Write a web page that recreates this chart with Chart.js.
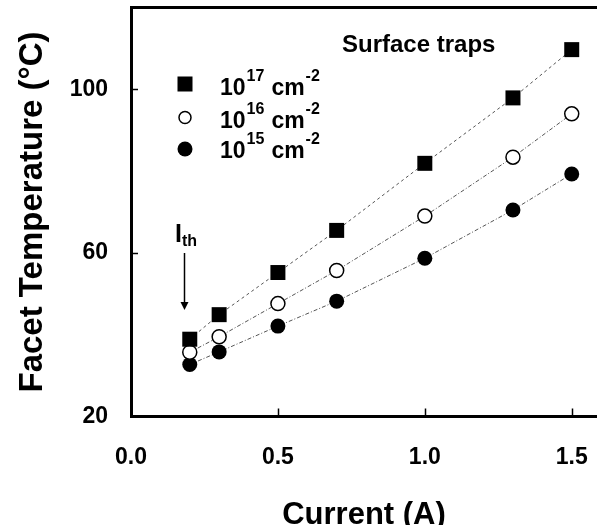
<!DOCTYPE html>
<html><head><meta charset="utf-8">
<script src="https://cdn.jsdelivr.net/npm/chart.js@4.4.0/dist/chart.umd.min.js"></script>
<style>html,body{margin:0;padding:0;background:#fff;overflow:hidden}#wrap{width:597px;height:525px}</style>
</head><body><div id="wrap"><canvas id="c" width="597" height="525"></canvas></div>
<script>
const currents = [0.2, 0.3, 0.5, 0.7, 1.0, 1.3, 1.5];
const temp1e17 = [38.9, 44.9, 55.2, 65.5, 81.9, 97.9, 109.7];
const temp1e16 = [35.7, 39.5, 47.6, 55.7, 69.0, 83.4, 94.0];
const temp1e15 = [32.7, 35.8, 42.1, 48.2, 58.7, 70.5, 79.3];
const xTicks = [0, 0.5, 1.0, 1.5];
const yTicks = [20, 60, 100];
const legendExp = ['17', '16', '15'];
const FONT = "'Liberation Sans', Arial, sans-serif";
Chart.defaults.font.family = FONT;
Chart.defaults.color = '#000';

function pts(vals){ return currents.map((x,i)=>({x:x, y:vals[i]})); }
function noPad(s){ s.paddingTop = 0; s.paddingBottom = 0; s.paddingLeft = 0; s.paddingRight = 0; }

const annot = {
  id: 'annot',
  afterDraw(chart){
    const ctx = chart.ctx, xs = chart.scales.x, ys = chart.scales.y;
    ctx.save();
    ctx.strokeStyle = '#000'; ctx.lineWidth = 1.5;
    xTicks.forEach(v=>{ if (v === xs.min) return; const px = Math.round(xs.getPixelForValue(v))+0.5;
      ctx.beginPath(); ctx.moveTo(px, ys.bottom); ctx.lineTo(px, ys.bottom-8); ctx.stroke(); });
    yTicks.forEach(v=>{ if (v === ys.min) return; const py = Math.round(ys.getPixelForValue(v))+0.5;
      ctx.beginPath(); ctx.moveTo(xs.left, py); ctx.lineTo(xs.left+7, py); ctx.stroke(); });
    // legend
    ctx.fillStyle = '#000';
    const rows = [{y:84, base:95, style:'rect'}, {y:117.5, base:128, style:'open'}, {y:149, base:158, style:'fill'}];
    rows.forEach((r, i)=>{
      const mx = 185;
      ctx.lineWidth = 1.5;
      if (r.style === 'rect'){ ctx.fillRect(mx-7.5, r.y-7.5, 15, 15); }
      else if (r.style === 'open'){ ctx.beginPath(); ctx.arc(mx, r.y, 6, 0, Math.PI*2); ctx.fillStyle='#fff'; ctx.fill(); ctx.stroke(); ctx.fillStyle='#000'; }
      else { ctx.beginPath(); ctx.arc(mx, r.y, 7.5, 0, Math.PI*2); ctx.fill(); }
      let x = 220;
      ctx.textBaseline = 'alphabetic'; ctx.textAlign = 'left';
      ctx.font = 'bold 23px ' + FONT; ctx.fillText('10', x, r.base); x += ctx.measureText('10').width + 1;
      ctx.font = 'bold 16px ' + FONT; ctx.fillText(legendExp[i], x, r.base-14); x += ctx.measureText(legendExp[i]).width + 7;
      ctx.font = 'bold 23px ' + FONT; ctx.fillText('cm', x, r.base); x += ctx.measureText('cm').width + 1;
      ctx.font = 'bold 16px ' + FONT; ctx.fillText('-2', x, r.base-14);
    });
    ctx.font = 'bold 24px ' + FONT; ctx.fillText('Surface traps', 342, 52);
    // I_th
    ctx.font = 'bold 25px ' + FONT; ctx.fillText('I', 175, 242);
    const iw = ctx.measureText('I').width;
    ctx.font = 'bold 16px ' + FONT; ctx.fillText('th', 175+iw, 246);
    ctx.lineWidth = 1.5;
    ctx.beginPath(); ctx.moveTo(184.5, 253); ctx.lineTo(184.5, 303); ctx.stroke();
    ctx.beginPath(); ctx.moveTo(180.5, 302); ctx.lineTo(188.5, 302); ctx.lineTo(184.5, 310); ctx.closePath(); ctx.fill();
    ctx.restore();
  }
};

new Chart(document.getElementById('c'), {
  type: 'line',
  data: { datasets: [
    { label: '10^17 cm^-2', data: pts(temp1e17), pointStyle: 'rect', pointRadius: 10.6, pointBackgroundColor: '#000', pointBorderColor: '#000', pointBorderWidth: 0,
      borderColor: '#555', borderWidth: 1, borderDash: [3,3], fill: false, clip: false },
    { label: '10^16 cm^-2', data: pts(temp1e16), pointStyle: 'circle', pointRadius: 7, pointBackgroundColor: '#fff', pointBorderColor: '#000', pointBorderWidth: 1.5,
      borderColor: '#555', borderWidth: 1, borderDash: [4,2,1,2], fill: false, clip: false },
    { label: '10^15 cm^-2', data: pts(temp1e15), pointStyle: 'circle', pointRadius: 7.5, pointBackgroundColor: '#000', pointBorderColor: '#000', pointBorderWidth: 0,
      borderColor: '#555', borderWidth: 1, borderDash: [4,2,1,2], fill: false, clip: false }
  ]},
  options: {
    responsive: false, animation: false, devicePixelRatio: 1,
    layout: { padding: 0, autoPadding: false },
    plugins: { legend: { display: false }, tooltip: { enabled: false } },
    scales: {
      x: { type: 'linear', position: 'bottom', min: 0, max: 1.586,
        afterBuildTicks: s => { s.ticks = xTicks.map(v=>({value:v})); },
        afterFit: s => { s.height = 108.5; noPad(s); },
        ticks: { font: { size: 23, weight: 'bold' }, color: '#000', padding: 27, maxRotation: 0, autoSkip: false, callback: v => Number(v).toFixed(1) },
        grid: { display: false, drawTicks: false },
        border: { display: true, width: 3, color: '#000' },
        title: { display: true, text: 'Current (A)', color: '#000', font: { size: 31, weight: 'bold', lineHeight: 1 }, padding: { top: 0, bottom: -6 } } },
      x2: { type: 'linear', position: 'top', display: true,
        afterFit: s => { s.height = 7.5; noPad(s); },
        ticks: { display: false }, grid: { display: false, drawTicks: false },
        border: { display: true, width: 3, color: '#000' } },
      y: { type: 'linear', position: 'left', min: 20, max: 120,
        afterBuildTicks: s => { s.ticks = yTicks.map(v=>({value:v})); },
        afterFit: s => { s.width = 131; noPad(s); },
        ticks: { font: { size: 23, weight: 'bold' }, color: '#000', padding: 23, callback: v => String(v) },
        grid: { display: false, drawTicks: false },
        border: { display: true, width: 3, color: '#000' },
        title: { display: true, text: 'Facet Temperature (°C)', color: '#000', font: { size: 33, weight: 'bold', lineHeight: 1.2 }, padding: { top: 13, bottom: 0 } } }
    }
  },
  plugins: [annot]
});
</script>
</body></html>
